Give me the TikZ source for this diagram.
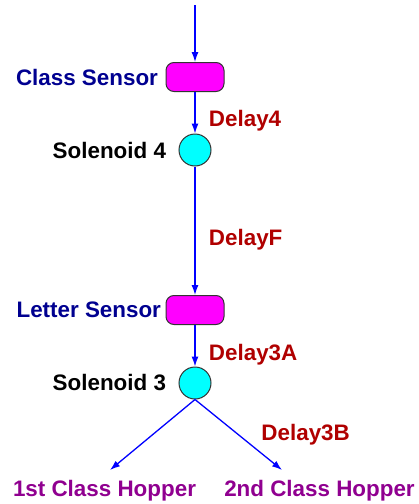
\documentclass[tikz,border=0pt]{standalone}
\usepackage{fontspec}
\setmainfont{Liberation Sans}
\usetikzlibrary{arrows.meta,positioning}
\definecolor{sensorblue}{RGB}{0,0,144}
\definecolor{delayred}{RGB}{176,0,0}
\definecolor{hopperpurple}{RGB}{144,0,144}
\definecolor{sensorfill}{RGB}{255,0,255}
\definecolor{solenoidfill}{RGB}{0,255,255}
\definecolor{flowblue}{RGB}{0,0,255}

\begin{document}
\begin{tikzpicture}[x=1pt, y=-1pt, node distance=73pt, auto,
    font=\fontsize{22.4}{26}\selectfont\bfseries,
    sensor/.style={draw=black!80, line width=1pt, fill=sensorfill, rounded corners=8pt,
        minimum width=58pt, minimum height=29pt},
    solenoid/.style={draw=black!80, line width=1pt, fill=solenoidfill, circle,
        minimum size=32pt, inner sep=0pt},
    flow/.style={flowblue, line width=1.3pt, -{Latex[length=10pt,width=7pt]}},
    delay/.style={text=delayred, right=10pt}]
    \useasboundingbox (0,0) rectangle (419,504);

    \coordinate (in) at (195,5);
    \node[sensor, label={[text=sensorblue, label distance=4pt]left:Class Sensor}] (cs) at (195,77) {};
    \node[solenoid, below of=cs, label={[label distance=9pt]left:Solenoid 4}] (s4) {};
    \node[sensor, below of=s4, node distance=160pt,
        label={[text=sensorblue, label distance=1pt]left:Letter Sensor}] (ls) {};
    \node[solenoid, below of=ls, label={[label distance=9pt]left:Solenoid 3}] (s3) {};

    % hoppers and where the chutes end
    \node[text=hopperpurple] (hop1) at (104.5,491) {1st Class Hopper};
    \node[text=hopperpurple] (hop2) at (319.5,491) {2nd Class Hopper};
    \coordinate (tip1) at (110,470);
    \coordinate (tip2) at (282,470);

    % Paths with their delays
    \draw[flow] (in) -- (cs.north);
    \draw[flow] (cs) -- node[delay, pos=0.7] {Delay4} (s4);
    \draw[flow] (s4) -- node[delay, pos=0.57] {DelayF} (ls);
    \draw[flow] (ls) -- node[delay, pos=0.72] {Delay3A} (s3);
    \draw[flow] (s3.south) -- (tip1);
    \draw[flow] (s3.south) -- node[delay, right=19pt] {Delay3B} (tip2);
\end{tikzpicture}
\end{document}
